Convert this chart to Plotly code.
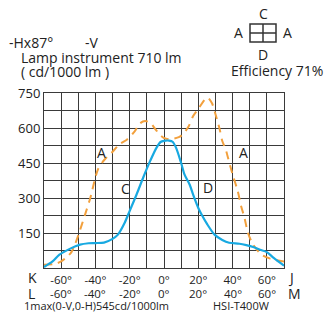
import plotly.graph_objects as go

# Photometric curves (cd/1000 lm) against angle in degrees
c_d_angles = [-70, -65, -61, -55, -49, -44, -40, -35, -30, -27, -23, -20, -16, -12, -8,
              -4.5, -2, 0, 3, 5, 7, 10, 12, 15, 17, 20, 22, 25, 29.5, 34, 38, 44, 48,
              52, 56, 60, 64, 70]
c_d_values = [4, 28, 57, 82, 100, 106, 107, 109, 125, 142, 193, 245, 315, 390, 460,
              514, 540, 545, 546, 541, 516, 450, 400, 357, 314, 257, 228, 190, 143,
              120, 108, 104, 98, 90, 78, 68, 43, 10]

a_angles = [-70, -64, -60, -57, -54, -52, -50, -46, -43, -38.5, -34.5, -30.5, -26, -21.5,
            -17, -14, -11, -8, -4.5, -2, 0, 3, 6, 9, 11, 14.5, 17, 20.5, 24, 25.5, 28,
            30, 32.5, 34, 36, 38.5, 40.5, 43, 45, 47, 49, 52, 57, 62, 66, 70]
a_values = [14, 17, 28, 45, 68, 100, 140, 230, 300, 423, 466, 494, 530, 551,
            587, 620, 630, 622, 590, 568, 557, 552, 555, 562, 573, 609, 651, 687, 724, 730, 706,
            660, 594, 544, 508, 440, 390, 330, 265, 214, 150, 100, 57, 40, 33, 28]

x_grid = list(range(-70, 71, 10))
x_label_vals = [-60, -40, -20, 0, 20, 40, 60]
y_grid = list(range(0, 751, 75))
y_label_vals = [150, 300, 450, 600, 750]

curve_labels = [("A", -36.5, 493), ("C", -22.3, 340), ("D", 25.7, 343), ("A", 46.1, 493)]

FONT = "Open Sans"
INK = "#222222"
GRID = "#3a3a3a"

# plot area in pixels
W, H = 324, 320
L_, R_, T_, B_ = 44, 284, 93, 268


def px(x):
    return (x - L_) / (R_ - L_)


def py(y):
    return (B_ - y) / (B_ - T_)


fig = go.Figure()
fig.add_trace(go.Scatter(
    x=a_angles, y=a_values, mode="lines",
    line=dict(color="#F2A03D", width=2, dash="8px,6px", shape="spline", smoothing=0.8),
    hoverinfo="skip"))
fig.add_trace(go.Scatter(
    x=c_d_angles, y=c_d_values, mode="lines",
    line=dict(color="#18A9E1", width=2.2, shape="spline", smoothing=0.8),
    hoverinfo="skip"))

ann = []
for txt_, xv, yv in curve_labels:
    ann.append(dict(x=xv, y=yv, xref="x", yref="y", text=txt_, showarrow=False,
                    xanchor="center", yanchor="middle",
                    font=dict(family=FONT, size=14, color=INK)))

# second row of angle labels (L ... M)
for v in x_label_vals:
    ann.append(dict(x=v, y=py(293), xref="x", yref="paper", text=f"{v}°", showarrow=False,
                    xanchor="center", yanchor="middle", borderpad=0,
                    font=dict(family=FONT, size=11.5, color=INK)))


def txt(t, x, y, size=14, anchor="left"):
    ann.append(dict(x=px(x), y=py(y), xref="paper", yref="paper", text=t, showarrow=False,
                    xanchor=anchor, yanchor="middle", borderpad=0,
                    font=dict(family=FONT, size=size, color=INK)))


txt("K", 27, 277.5, 14)
txt("L", 27, 293, 14)
txt("J", 287, 277.5, 14)
txt("M", 287, 293, 14)
txt("1max(0-V,0-H)545cd/1000lm", 23, 305.5, 11)
txt("HSI-T400W", 212, 305.5, 11)
txt("-Hx87°", 8, 43, 14)
txt("-V", 84, 43, 14)
txt("Lamp instrument 710 lm", 20, 57.5, 14)
txt("( cd/1000 lm )", 20, 71.5, 14)
txt("C", 263, 13, 14, "center")
txt("A", 238, 32, 14, "center")
txt("A", 287, 32, 14, "center")
txt("D", 263, 54, 14, "center")
txt("Efficiency 71%", 277, 70, 14, "center")

shapes = [
    dict(type="rect", xref="paper", yref="paper", x0=px(250), x1=px(276), y0=py(24), y1=py(42),
         line=dict(color="#333333", width=1.5)),
    dict(type="line", xref="paper", yref="paper", x0=px(263), x1=px(263), y0=py(24), y1=py(42),
         line=dict(color="#333333", width=1.5)),
    dict(type="line", xref="paper", yref="paper", x0=px(250), x1=px(276), y0=py(33), y1=py(33),
         line=dict(color="#333333", width=1.5)),
]

fig.update_layout(
    width=W, height=H,
    margin=dict(l=L_, r=W - R_, t=T_, b=H - B_),
    paper_bgcolor="white", plot_bgcolor="white",
    showlegend=False,
    annotations=ann, shapes=shapes,
    xaxis=dict(range=[-70, 70], tickmode="array", tickvals=x_grid,
               ticktext=[f"{v}°" if v in x_label_vals else "" for v in x_grid],
               showgrid=True, gridcolor=GRID, gridwidth=1, zeroline=False,
               showline=True, linecolor=GRID, linewidth=1, mirror=True,
               ticks="", ticklabelstandoff=1,
               tickfont=dict(family=FONT, size=11.5, color=INK)),
    yaxis=dict(range=[0, 750], tickmode="array", tickvals=y_grid,
               ticktext=[str(v) if v in y_label_vals else "" for v in y_grid],
               showgrid=True, gridcolor=GRID, gridwidth=1, zeroline=False,
               showline=True, linecolor=GRID, linewidth=1, mirror=True,
               ticks="", tickfont=dict(family=FONT, size=13, color=INK)),
)

fig.write_html("out.html")
